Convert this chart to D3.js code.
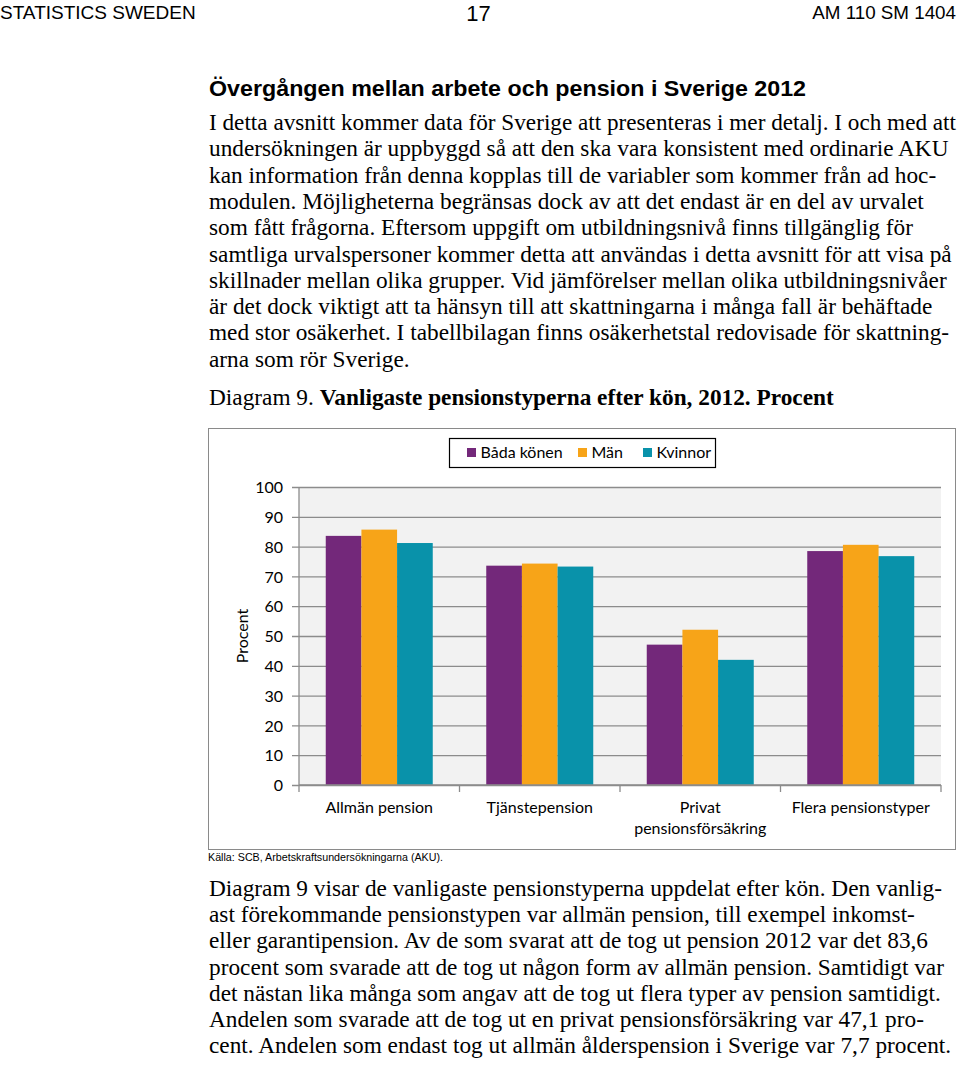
<!DOCTYPE html>
<html>
<head>
<meta charset="utf-8">
<script src="https://cdn.jsdelivr.net/npm/d3@7"></script>
<style>
  html, body { margin: 0; padding: 0; background: #fff; }
  svg { display: block; }
</style>
</head>
<body>
<svg id="page" width="960" height="1065"></svg>
<script>
// ---------- data ----------
const categories = ["Allmän pension", "Tjänstepension", "Privat pensionsförsäkring", "Flera pensionstyper"];
const seriesNames = ["Båda könen", "Män", "Kvinnor"];
const bothValues  = [83.6, 73.6, 47.1, 78.5];
const menValues   = [85.7, 74.3, 52.1, 80.6];
const womenValues = [81.2, 73.3, 42.0, 76.8];
const yTickValues = [0, 10, 20, 30, 40, 50, 60, 70, 80, 90, 100];
const yAxisTitle = "Procent";
const sourceText = "Källa: SCB, Arbetskraftsundersökningarna (AKU).";

const headerLeft = "STATISTICS SWEDEN";
const headerCenter = "17";
const headerRight = "AM 110 SM 1404";
const sectionTitle = "Övergången mellan arbete och pension i Sverige 2012";
const para1Lines = [
  "I detta avsnitt kommer data för Sverige att presenteras i mer detalj. I och med att",
  "undersökningen är uppbyggd så att den ska vara konsistent med ordinarie AKU",
  "kan information från denna kopplas till de variabler som kommer från ad hoc-",
  "modulen. Möjligheterna begränsas dock av att det endast är en del av urvalet",
  "som fått frågorna. Eftersom uppgift om utbildningsnivå finns tillgänglig för",
  "samtliga urvalspersoner kommer detta att användas i detta avsnitt för att visa på",
  "skillnader mellan olika grupper. Vid jämförelser mellan olika utbildningsnivåer",
  "är det dock viktigt att ta hänsyn till att skattningarna i många fall är behäftade",
  "med stor osäkerhet. I tabellbilagan finns osäkerhetstal redovisade för skattning-",
  "arna som rör Sverige."
];
const diagramLabel = "Diagram 9. ";
const diagramTitle = "Vanligaste pensionstyperna efter kön, 2012. Procent";
const para2Lines = [
  "Diagram 9 visar de vanligaste pensionstyperna uppdelat efter kön. Den vanlig-",
  "ast förekommande pensionstypen var allmän pension, till exempel inkomst-",
  "eller garantipension. Av de som svarat att de tog ut pension 2012 var det 83,6",
  "procent som svarade att de tog ut någon form av allmän pension. Samtidigt var",
  "det nästan lika många som angav att de tog ut flera typer av pension samtidigt.",
  "Andelen som svarade att de tog ut en privat pensionsförsäkring var 47,1 pro-",
  "cent. Andelen som endast tog ut allmän ålderspension i Sverige var 7,7 procent."
];

// ---------- styles ----------
const colors = ["#73287a", "#f7a418", "#0992aa"];
const serif = "'Liberation Serif', 'Times New Roman', serif";
const sans = "'Liberation Sans', Arial, sans-serif";
const chartFont = "Lato, 'Open Sans', sans-serif";
const bodySize = 23.3;

const svg = d3.select("#page");

// ---------- header ----------
svg.append("text").attr("x", 0).attr("y", 19)
  .attr("font-family", sans).attr("font-size", 19)
  .text(headerLeft);
svg.append("text").attr("x", 478.5).attr("y", 20.5).attr("text-anchor", "middle")
  .attr("font-family", sans).attr("font-size", 22)
  .text(headerCenter);
svg.append("text").attr("x", 956).attr("y", 19).attr("text-anchor", "end")
  .attr("font-family", sans).attr("font-size", 18.8)
  .text(headerRight);

// ---------- section title ----------
svg.append("text").attr("x", 209).attr("y", 96)
  .attr("font-family", sans).attr("font-size", 22.5).attr("font-weight", "bold")
  .attr("textLength", 597).attr("lengthAdjust", "spacingAndGlyphs")
  .text(sectionTitle);

// ---------- paragraph helper (left aligned, kept inside the text column) ----------
function drawParagraph(lines, y0, lh, x0, x1) {
  lines.forEach((line, i) => {
    const t = svg.append("text").attr("x", x0).attr("y", y0 + i * lh)
      .attr("font-family", serif).attr("font-size", bodySize).attr("fill", "#000").text(line);
    const w = t.node().getComputedTextLength();
    if (w > x1 - x0) t.attr("textLength", x1 - x0).attr("lengthAdjust", "spacingAndGlyphs");
  });
}
drawParagraph(para1Lines, 130, 26.3, 209, 956);

const dt = svg.append("text").attr("x", 209).attr("y", 405)
  .attr("font-family", serif).attr("font-size", bodySize);
dt.append("tspan").text(diagramLabel);
dt.append("tspan").attr("font-weight", "bold").text(diagramTitle);

drawParagraph(para2Lines, 896, 26.2, 209, 956);

// ---------- chart ----------
const frame = { x: 208.5, y: 428.5, w: 747, h: 421 };
svg.append("rect").attr("x", frame.x).attr("y", frame.y).attr("width", frame.w).attr("height", frame.h)
  .attr("fill", "#fff").attr("stroke", "#8a8a8a").attr("stroke-width", 1);

const plot = { left: 299, right: 941, top: 487, bottom: 785 };
svg.append("rect").attr("x", plot.left).attr("y", plot.top)
  .attr("width", plot.right - plot.left).attr("height", plot.bottom - plot.top)
  .attr("fill", "#f2f2f2");

const x0 = d3.scaleBand().domain(categories).range([plot.left, plot.right]).paddingInner(0).paddingOuter(0);
const x1 = d3.scaleBand().domain(seriesNames).range([0, x0.bandwidth()]).paddingInner(0).paddingOuter(0.75);
const y = d3.scaleLinear().domain([0, 100]).range([plot.bottom, plot.top]);

// gridlines + y axis
const yAxis = d3.axisLeft(y).tickValues(yTickValues).tickSize(-(plot.right - plot.left)).tickPadding(16);
const gy = svg.append("g").attr("transform", `translate(${plot.left},0)`).call(yAxis);
gy.select(".domain").remove();
gy.selectAll(".tick line").attr("stroke", "#8c8c8c").attr("stroke-width", 1.3).attr("x1", -7);
gy.selectAll(".tick text").attr("font-family", chartFont).attr("font-size", 16).attr("fill", "#000").attr("dy", "0.36em");

svg.append("line").attr("x1", plot.left).attr("x2", plot.left).attr("y1", plot.top).attr("y2", plot.bottom)
  .attr("stroke", "#8c8c8c").attr("stroke-width", 1.3);

// bars
const seriesValues = [bothValues, menValues, womenValues];
const rows = categories.map((c, i) => ({ cat: c, vals: seriesNames.map((s, k) => ({ s, k, v: seriesValues[k][i] })) }));
svg.append("g").selectAll("g").data(rows).join("g")
  .attr("transform", d => `translate(${x0(d.cat)},0)`)
  .selectAll("rect").data(d => d.vals).join("rect")
  .attr("x", d => x1(d.s)).attr("width", x1.bandwidth())
  .attr("y", d => y(d.v)).attr("height", d => y(0) - y(d.v))
  .attr("fill", d => colors[d.k]);

// x axis
const xAxis = d3.axisBottom(x0).tickSize(0).tickPadding(0);
const gx = svg.append("g").attr("transform", `translate(0,${plot.bottom})`).call(xAxis);
gx.select(".domain").attr("stroke", "#8c8c8c").attr("stroke-width", 1.3).attr("d", `M${plot.left},0H${plot.right}`);
gx.selectAll(".tick").remove();
const bounds = categories.map(c => x0(c)).concat([plot.right]);
gx.selectAll(".bt").data(bounds).join("line").attr("class", "bt")
  .attr("x1", d => d).attr("x2", d => d).attr("y1", 0).attr("y2", 7)
  .attr("stroke", "#8c8c8c").attr("stroke-width", 1.3);

// wrapped category labels
const labelG = svg.append("g");
categories.forEach(c => {
  const cx = x0(c) + x0.bandwidth() / 2;
  const t = labelG.append("text").attr("x", cx).attr("y", 813).attr("text-anchor", "middle")
    .attr("font-family", chartFont).attr("font-size", 16).attr("fill", "#000").text(c);
  if (t.node().getComputedTextLength() > x0.bandwidth() - 6) {
    const words = c.split(" ");
    t.text(null);
    t.append("tspan").attr("x", cx).attr("dy", 0).text(words[0]);
    t.append("tspan").attr("x", cx).attr("dy", 21).text(words.slice(1).join(" "));
  }
});

// y axis title
svg.append("text").attr("transform", `translate(248,${(plot.top + plot.bottom) / 2}) rotate(-90)`)
  .attr("text-anchor", "middle").attr("font-family", chartFont).attr("font-size", 16).text(yAxisTitle);

// legend
const legend = { x: 449.5, y: 438.5, w: 266, h: 29 };
svg.append("rect").attr("x", legend.x).attr("y", legend.y).attr("width", legend.w).attr("height", legend.h)
  .attr("fill", "#fff").attr("stroke", "#000").attr("stroke-width", 1.2);
const legendX = [467, 578, 643];
seriesNames.forEach((s, k) => {
  svg.append("rect").attr("x", legendX[k]).attr("y", 448).attr("width", 9).attr("height", 9).attr("fill", colors[k]);
  svg.append("text").attr("x", legendX[k] + 13.5).attr("y", 458).attr("font-family", chartFont)
    .attr("font-size", 16).attr("fill", "#000").text(s);
});

// source
svg.append("text").attr("x", 208).attr("y", 861).attr("font-family", sans).attr("font-size", 11.5)
  .attr("textLength", 235).attr("lengthAdjust", "spacingAndGlyphs").text(sourceText);
</script>
</body>
</html>
